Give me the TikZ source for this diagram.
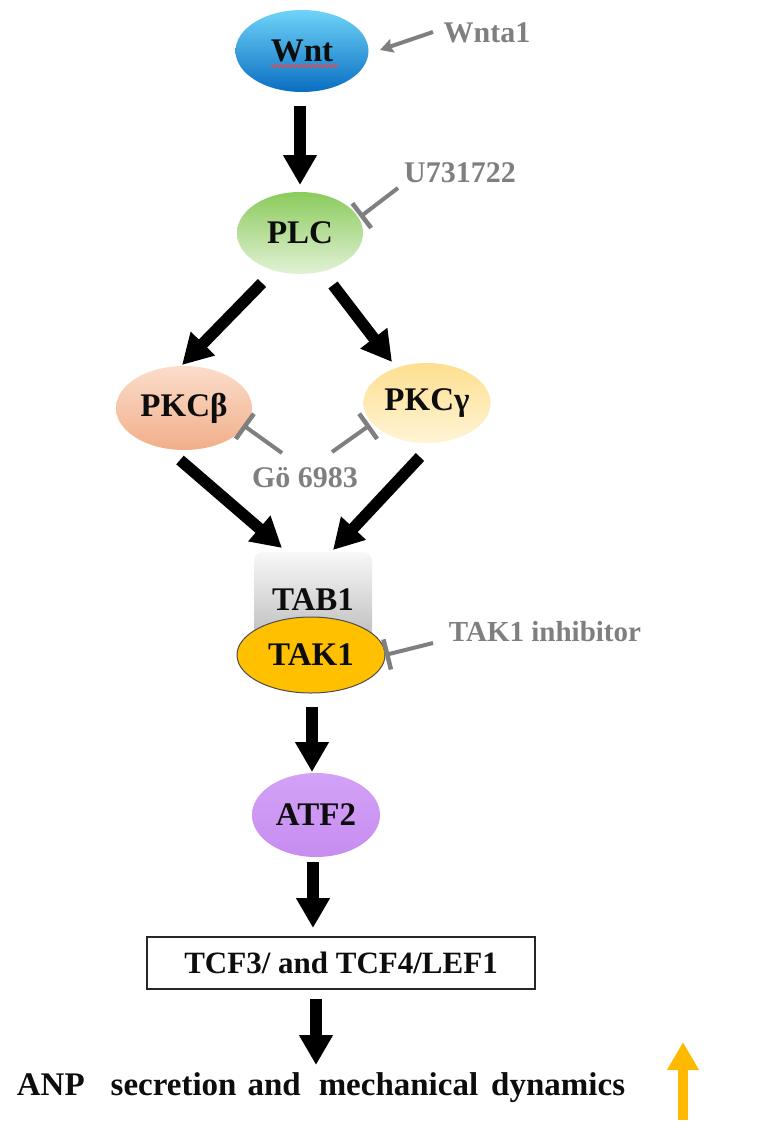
\documentclass[tikz,border=0pt]{standalone}
\usepackage{fontspec}
\setmainfont{Liberation Serif}
\usetikzlibrary{arrows.meta,shapes.geometric,calc,decorations.pathmorphing}
\definecolor{wntT}{HTML}{6FD3F8}
\definecolor{wntB}{HTML}{0A6EC2}
\definecolor{plcT}{HTML}{8BCB5C}
\definecolor{plcB}{HTML}{E2F1D6}
\definecolor{pkbT}{HTML}{FBDDCB}
\definecolor{pkbB}{HTML}{F1AE8A}
\definecolor{pkgT}{HTML}{FDDF90}
\definecolor{pkgB}{HTML}{FFF4D6}
\definecolor{tabT}{HTML}{F8F8F8}
\definecolor{tabB}{HTML}{B8B8B8}
\definecolor{takF}{HTML}{FFC000}
\definecolor{atfT}{HTML}{D3A2F7}
\definecolor{atfB}{HTML}{C78DF0}
\definecolor{inhGray}{HTML}{7F7F7F}
\definecolor{upYel}{HTML}{FFBA00}
\definecolor{txtK}{HTML}{0D0D0D}
\tikzset{
  ell/.style={ellipse, inner sep=0pt, text=txtK,
    font=\fontsize{33}{33}\selectfont\bfseries},
  graylab/.style={inner sep=0pt, text=inhGray,
    font=\fontsize{30}{30}\selectfont\bfseries},
  blk/.style={line width=11.5pt, draw=black,
    -{Triangle[length=30pt,width=32pt]}},
  grayarr/.style={line width=4pt, draw=inhGray,
    -{Stealth[length=13pt,width=14pt,inset=2pt]}},
  inhib/.style={line width=4pt, draw=inhGray,
    -{Bar[width=31pt,line width=4.5pt]}},
  yelarr/.style={line width=10pt, draw=upYel,
    -{Triangle[length=28pt,width=30pt]}}
}
\begin{document}
\begin{tikzpicture}[x=1pt,y=-1pt]
\fill[white] (0,0) rectangle (757,1144);
\useasboundingbox (0,0) rectangle (757,1144);

% nodes
\node[ell, minimum width=133pt, minimum height=82pt,
  top color=wntT, bottom color=wntB] (wnt) at (302,51) {Wnt};
\node[ell, minimum width=126pt, minimum height=82pt,
  top color=plcT, bottom color=plcB] (plc) at (300,233) {PLC};
\node[ell, minimum width=136pt, minimum height=84pt,
  top color=pkbT, bottom color=pkbB] (pkcb) at (184,408) {PKCβ};
\node[ell, minimum width=127pt, minimum height=80pt,
  top color=pkgT, bottom color=pkgB] (pkcg) at (427,403) {PKCγ};
\node[rectangle, rounded corners=9pt, minimum width=118pt, minimum height=96pt,
  inner sep=0pt, top color=tabT, bottom color=tabB, text=txtK,
  font=\fontsize{33}{33}\selectfont\bfseries] (tab1) at (313,600) {TAB1};
\node[ell, minimum width=148pt, minimum height=76pt, fill=takF,
  draw=black!70, line width=1pt] (tak1) at (311,655) {TAK1};
\node[ell, minimum width=128pt, minimum height=84pt,
  top color=atfT, bottom color=atfB] (atf2) at (316,815) {ATF2};
\node[rectangle, minimum width=388pt, minimum height=52pt, inner sep=0pt,
  draw=black!85, line width=1.5pt, fill=white, text=txtK,
  font=\fontsize{31}{31}\selectfont\bfseries] (tcf) at (341,963) {TCF3/ and TCF4/LEF1};
\node[inner sep=0pt, text=txtK, font=\fontsize{33}{33}\selectfont\bfseries]
  (anp) at (321,1088) {ANP\hspace{26pt}secretion\hspace{11pt}and\hspace{18pt}mechanical\hspace{13pt}dynamics};

% gray labels
\node[graylab] (wnta1) at (487,33) {Wnta1};
\node[graylab] (u73) at (460,173) {U731722};
\node[graylab] (go) at (305,478) {Gö 6983};
\node[graylab, font=\fontsize{29}{29}\selectfont\bfseries] (takinh) at (545,632) {TAK1 inhibitor};

% spell-check squiggle under Wnt
\draw[red!75, line width=1pt, decorate,
  decoration={snake, amplitude=1.3pt, segment length=4pt}]
  ($(wnt.center)+(-31,15)$) -- ($(wnt.center)+(36,15)$);

% black arrows
\draw[blk] ($(wnt.center)+(-2,55)$) -- ($(plc.center)+(0,-48)$);
\draw[blk] ($(plc.center)+(-38,50)$) -- ($(pkcb.center)+(-2,-43)$);
\draw[blk] ($(plc.center)+(33,52)$) -- ($(pkcg.center)+(-35,-41)$);
\draw[blk] ($(pkcb.center)+(-4,52)$) -- ($(tab1.center)+(-31,-52)$);
\draw[blk] ($(pkcg.center)+(-7,54)$) -- ($(tab1.center)+(20,-50)$);
\draw[blk] ($(tak1.center)+(1,52)$) -- ($(atf2.center)+(-4,-43)$);
\draw[blk] ($(atf2.center)+(-3,47)$) -- ($(tcf.center)+(-28,-35)$);
\draw[blk] ($(tcf.center)+(-25,36)$) -- ($(anp.center)+(-5,-23)$);

% gray arrow and inhibitors
\draw[grayarr] ($(wnta1.center)+(-54,-1)$) -- ($(wnt.center)+(78,-1)$);
\draw[inhib] ($(u73.center)+(-62,15)$) -- ($(plc.center)+(60,-16)$);
\draw[inhib] ($(go.center)+(-23,-25)$) -- ($(pkcb.center)+(59,17)$);
\draw[inhib] ($(go.center)+(27,-26)$) -- ($(pkcg.center)+(-57,22)$);
\draw[inhib] ($(takinh.center)+(-112,11)$) -- ($(tak1.center)+(74,0)$);

% yellow up arrow
\coordinate (up0) at (683,1120);
\coordinate (up1) at (683,1042);
\draw[yelarr] (up0) -- (up1);
\end{tikzpicture}
\end{document}
